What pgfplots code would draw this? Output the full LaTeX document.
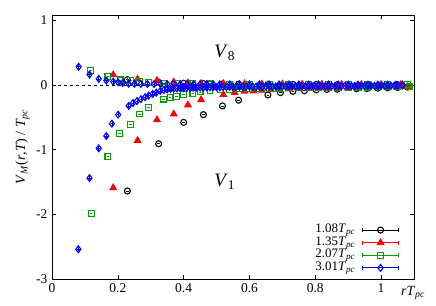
\documentclass[border=0pt]{standalone}
\usepackage{fontspec}
\setmainfont{Liberation Serif}
\usepackage{pgfplots}
\pgfplotsset{compat=1.18}
\usepackage{pgfplotstable}
\usetikzlibrary{calc}
\definecolor{gpgreen}{RGB}{0,160,0}

\pgfplotstableread{
x y
0.229 -1.64
0.324 -0.91
0.400 -0.58
0.460 -0.46
0.518 -0.325
0.567 -0.237
0.656 -0.155
0.694 -0.12
0.732 -0.10
0.767 -0.09
0.803 -0.077
0.835 -0.07
0.867 -0.067
0.926 -0.06
0.957 -0.057
0.990 -0.05
1.020 -0.045
1.050 -0.04
1.080 -0.035
0.229 0.08
0.324 0.04
0.400 0.025
0.460 0.02
0.518 0.015
0.567 0.012
0.656 0.01
0.732 0.008
0.803 0.006
0.867 0.005
0.957 0.004
1.050 0.003
}\blackdata

\pgfplotstableread{
x y
0.186 -1.59
0.260 -0.86
0.319 -0.54
0.370 -0.45
0.413 -0.31
0.453 -0.23
0.521 -0.15
0.555 -0.12
0.585 -0.10
0.612 -0.095
0.638 -0.085
0.665 -0.075
0.690 -0.07
0.720 -0.065
0.750 -0.06
0.780 -0.055
0.810 -0.052
0.840 -0.05
0.870 -0.047
0.900 -0.045
0.930 -0.042
0.960 -0.04
0.990 -0.038
1.020 -0.035
1.050 -0.033
1.080 -0.03
0.186 0.155
0.260 0.09
0.319 0.067
0.370 0.045
0.413 0.03
0.453 0.022
0.521 0.018
0.585 0.015
0.638 0.013
0.700 0.012
0.760 0.01
0.820 0.01
0.880 0.009
0.940 0.008
1.000 0.008
1.060 0.007
}\reddata

\pgfplotstableread{
x y
0.119 -1.99
0.170 -1.11
0.205 -0.75
0.238 -0.61
0.266 -0.45
0.293 -0.345
0.339 -0.22
0.359 -0.196
0.379 -0.18
0.400 -0.15
0.428 -0.13
0.450 -0.108
0.480 -0.088
0.511 -0.077
0.540 -0.068
0.570 -0.062
0.600 -0.058
0.630 -0.055
0.660 -0.052
0.690 -0.05
0.720 -0.048
0.750 -0.046
0.780 -0.044
0.810 -0.042
0.840 -0.04
0.870 -0.038
0.900 -0.036
0.930 -0.035
0.960 -0.034
0.990 -0.033
1.020 -0.032
1.050 -0.031
1.085 -0.03
0.118 0.22
0.170 0.13
0.207 0.077
0.238 0.067
0.266 0.05
0.293 0.036
0.339 0.025
0.379 0.02
0.428 0.017
0.480 0.015
0.540 0.013
0.600 0.012
0.660 0.011
0.720 0.01
0.780 0.01
0.840 0.009
0.900 0.009
0.960 0.008
1.020 0.008
1.080 0.007
}\greendata

\pgfplotstableread{
x y
0.080 -2.54
0.114 -1.44
0.142 -0.98
0.165 -0.79
0.182 -0.60
0.201 -0.46
0.233 -0.325
0.246 -0.28
0.258 -0.25
0.270 -0.22
0.283 -0.19
0.294 -0.165
0.306 -0.14
0.317 -0.12
0.329 -0.093
0.340 -0.08
0.350 -0.07
0.36 -0.062
0.37 -0.058
0.38 -0.055
0.39 -0.052
0.40 -0.05
0.41 -0.048
0.42 -0.046
0.43 -0.044
0.44 -0.043
0.45 -0.041
0.46 -0.04
0.47 -0.039
0.48 -0.038
0.49 -0.037
0.50 -0.036
0.51 -0.035
0.52 -0.034
0.53 -0.033
0.54 -0.032
0.55 -0.031
0.56 -0.031
0.57 -0.03
0.58 -0.03
0.59 -0.029
0.60 -0.029
0.61 -0.028
0.62 -0.028
0.63 -0.027
0.64 -0.027
0.65 -0.026
0.66 -0.026
0.67 -0.025
0.68 -0.025
0.69 -0.024
0.70 -0.024
0.71 -0.023
0.72 -0.023
0.73 -0.022
0.74 -0.022
0.75 -0.021
0.76 -0.021
0.77 -0.02
0.78 -0.02
0.79 -0.02
0.80 -0.019
0.81 -0.019
0.82 -0.019
0.83 -0.018
0.84 -0.018
0.85 -0.018
0.86 -0.017
0.87 -0.017
0.88 -0.017
0.89 -0.016
0.90 -0.016
0.91 -0.016
0.92 -0.015
0.93 -0.015
0.94 -0.015
0.95 -0.015
0.96 -0.014
0.97 -0.014
0.98 -0.014
0.99 -0.014
1.00 -0.013
1.01 -0.013
1.02 -0.013
1.03 -0.013
1.04 -0.012
1.05 -0.012
1.065 -0.012
0.081 0.28
0.114 0.16
0.142 0.093
0.165 0.067
0.186 0.05
0.201 0.04
0.215 0.03
0.233 0.018
0.250 0.016
0.270 0.015
0.290 0.014
0.310 0.013
0.330 0.013
0.350 0.012
0.370 0.012
0.390 0.011
0.410 0.011
0.430 0.01
0.450 0.01
0.470 0.01
0.490 0.009
0.510 0.009
0.540 0.009
0.570 0.008
0.600 0.008
0.630 0.008
0.660 0.007
0.690 0.007
0.720 0.007
0.750 0.006
0.780 0.006
0.810 0.006
0.840 0.005
0.870 0.005
0.900 0.005
0.930 0.004
0.960 0.004
0.990 0.004
1.020 0.003
1.045 0.003
1.065 0.003
}\bluedata

\begin{document}
\fontsize{13}{15}\selectfont
\begin{tikzpicture}
\begin{axis}[
  scale only axis,
  width=362pt, height=264pt,
  xmin=0, xmax=1.1, ymin=-3, ymax=1.08,
  xtick={0,0.2,0.4,0.6,0.8,1},
  xticklabels={0,0.2,0.4,0.6,0.8,1},
  ytick={-3,-2,-1,0,1},
  /pgf/number format/assume math mode=true,
  tick label style={font=\fontsize{13.5}{15}\selectfont},
  tick align=inside,
  major tick length=4pt,
  axis line style={line width=0.8pt},
  tick style={line width=0.6pt, black},
  ylabel={\fontsize{14}{16}\selectfont\textit{V}\textsubscript{\textit{M}}(\textit{r},\textit{T}) / \textit{T}\textsubscript{\textit{pc}}},
  xlabel={\fontsize{14}{16}\selectfont\textit{rT}\textsubscript{\textit{pc}}},
  xlabel style={at={(rel axis cs:1,0)}, anchor=base, yshift=-16.7pt, xshift=-1pt},
  ylabel style={yshift=-2pt},
  legend style={draw=none, fill=none, inner sep=0pt, at={(rel axis cs:0.959,0.21)}, anchor=north east,
    row sep=0pt, column sep=7pt, nodes={inner sep=0pt, text height=9pt, text depth=3.6pt},
    cells={anchor=east}},
  legend plot pos=right,
  legend image code/.code={%
    \draw[#1, mark=none, line width=0.8pt] (0pt,0pt)--(36pt,0pt);
    \draw[#1, mark=none, line width=0.8pt] (0pt,-2pt)--(0pt,2pt) (36pt,-2pt)--(36pt,2pt);
    \draw[#1] plot coordinates {(18pt,0pt)};
  },
  every axis plot/.append style={only marks, line width=1.1pt,
    error bars/x dir=both, error bars/x fixed=0.004, error bars/error mark=none,
    error bars/error bar style={line width=0.7pt}},
]
\addplot[black, dashed, thin, no marks, forget plot, error bars/x dir=none, sharp plot] coordinates {(0,0) (1.1,0)};
\addplot[black, mark=o, mark size=3pt] table {\blackdata};
\addlegendentry{1.08\textit{T}\textsubscript{\textit{pc}}}
\addplot[red, mark=triangle*, mark size=3.6pt] table {\reddata};
\addlegendentry{1.35\textit{T}\textsubscript{\textit{pc}}}
\addplot[gpgreen, mark=square, mark size=2.9pt] table {\greendata};
\addlegendentry{2.07\textit{T}\textsubscript{\textit{pc}}}
\addplot[blue, mark=diamond, mark size=3.4pt, error bars/y dir=both, error bars/y fixed=0.04] table {\bluedata};
\addlegendentry{3.01\textit{T}\textsubscript{\textit{pc}}}
\node[font=\fontsize{19}{21}\selectfont] at (axis cs:0.525,0.50) {\textit{V}\textsubscript{8}};
\node[font=\fontsize{19}{21}\selectfont] at (axis cs:0.525,-1.50) {\textit{V}\textsubscript{1}};
\coordinate (SW) at (rel axis cs:0,0);
\coordinate (NE) at (rel axis cs:1,1);
\end{axis}
\pgfresetboundingbox
\path (SW) ++(-52pt,-26pt) rectangle ($(NE)+(22pt,15pt)$);
\end{tikzpicture}
\end{document}
